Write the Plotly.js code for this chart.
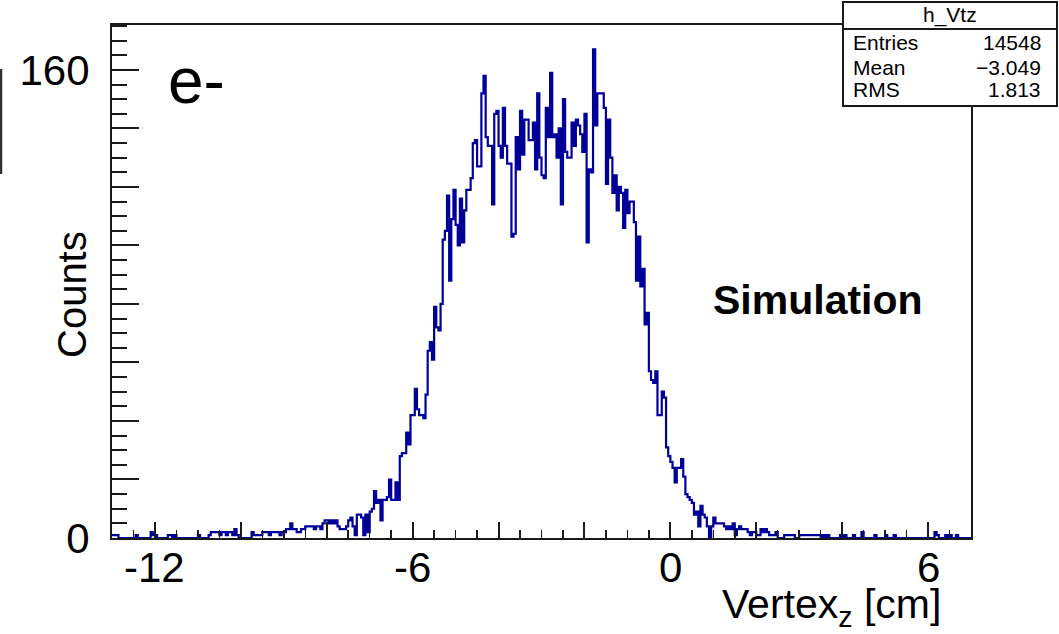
<!DOCTYPE html>
<html><head><meta charset="utf-8">
<script src="https://cdn.plot.ly/plotly-3.0.1.min.js"></script>
<style>html,body{margin:0;padding:0;background:#fff}</style>
</head><body><div id="chart" style="width:1059px;height:634px"></div>
<script>
// Histogram h_Vtz : 400 bins from -13 to 7 cm
const xMin = -13, xMax = 7, binWidth = 0.05;
const counts = [
1,1,1,0, 0,0,0,0, 0,0,0,1, 0,0,0,0, 0,0,2,1, 1,0,0,0, 0,0,1,1, 0,1,0,0, 0,0,0,0, 0,0,0,0,
1,0,0,0, 0,1,2,2, 2,2,1,2, 2,1,2,2, 1,3,1,0, 0,0,0,0, 0,2,1,1, 1,1,2,2, 2,1,2,2, 2,2,1,2,
2,3,3,5, 3,3,2,2, 3,3,4,4, 4,4,3,4, 4,3,5,6, 6,5,6,5, 6,4,3,3, 3,4,6,7, 4,1,8,8, 7,1,8,2,
9,10,16,12, 13,6,13,13, 14,20,13,13, 19,13,28,29, 29,36,32,42, 42,51,44,42, 42,41,49,64, 67,61,79,72, 71,80,102,105, 117,88,109,119,
107,100,116,101, 112,119,119,123, 135,136,127,127, 152,158,137,134, 134,114,145,146, 134,130,147,134, 128,128,103,104, 137,126,146,131, 143,143,136,136, 142,126,152,130,
124,123,147,137, 159,137,138,130, 140,114,150,132, 130,130,142,134, 143,141,138,132, 145,101,126,125, 167,141,152,152, 152,147,121,143, 130,118,124,112, 120,118,106,119,
111,115,115,108, 88,103,86,92, 73,77,57,54, 53,57,42,42, 50,48,31,28, 26,24,19,24, 24,27,21,15, 14,13,12,8, 9,4,11,8, 7,4,0,4,
7,5,5,5, 5,4,3,4, 3,5,1,3, 4,3,3,3, 2,1,2,2, 1,1,3,2, 3,2,1,1, 1,2,0,0, 0,1,1,1, 1,1,0,0,
1,1,1,1, 1,1,1,1, 1,1,0,1, 0,1,0,0, 0,0,0,1, 0,1,0,0, 0,1,0,0, 0,2,0,0, 0,0,0,1, 0,0,0,0,
1,0,0,0, 1,0,0,0, 0,0,0,0, 0,0,0,0, 0,0,0,0, 0,0,0,2, 1,0,0,0, 1,0,1,0, 0,1,0,0, 0,0,0,0
];
const xTickVals = [-12,-10,-8,-6,-4,-2,0,2,4,6];
const xLabelVals = [-12,-6,0,6];
const xLabelText = ["-12","-6","0","6"];
const yTickVals = [0,20,40,60,80,100,120,140,160];
const yTickText = ["0","","","","","","","","160"];
const statsTitle = "h_Vtz";
const statsNames = ["Entries","Mean","RMS"];
const statsValues = ["14548","\u22123.049","1.813"];
const labelText = "e-";
const simText = "Simulation";
const xTitle = "Vertex<sub>z</sub> [cm]";
const yTitle = "Counts";

// step outline built from the bins
const xs = [], ys = [];
counts.forEach((c, i) => {
  const lo = xMin + i * binWidth;
  xs.push(lo, lo + binWidth);
  ys.push(c, c);
});
const yMax = 1.05 * Math.max(...counts);

// pixel helpers for layout placement (plot area 112..971 x 25..538)
const L = 112, R = 971, T = 25, B = 538;
const px = v => (v - L) / (R - L);
const py = v => (B - v) / (B - T);

const FONT = "Liberation Sans, Arial, sans-serif";
const axisCol = "#1a1a1a";

const trace = {
  x: xs, y: ys, type: "scatter", mode: "lines",
  line: {color: "#000099", width: 2.2, shape: "linear"},
  hoverinfo: "skip", cliponaxis: true
};

function ann(x, y, text, size, extra) {
  return Object.assign({x: px(x), y: py(y), xref: "paper", yref: "paper", text: text,
    xanchor: "center", yanchor: "middle", showarrow: false,
    font: {family: FONT, size: size, color: "#000"}}, extra || {});
}

const annotations = [
  ann(72, 295, yTitle, 40, {textangle: -90}),
  ann(831, 607, xTitle, 41),
  ann(196, 81, labelText, 64),
  ann(818, 300, "<b>" + simText + "</b>", 41),
  ann(950, 15, statsTitle, 21)
];
xLabelVals.forEach((v, i) => {
  annotations.push({x: v, xref: "x", y: py(567), yref: "paper", text: xLabelText[i],
    xanchor: "center", yanchor: "middle", showarrow: false,
    font: {family: FONT, size: 42, color: "#000"}});
});
const rowY = [42.5, 67, 89.5];
statsNames.forEach((n, i) => {
  annotations.push(ann(851, rowY[i], n, 21, {xanchor: "left"}));
  annotations.push(ann(1043, rowY[i], statsValues[i], 21, {xanchor: "right"}));
});

const shapes = [
  {type: "rect", xref: "paper", yref: "paper", x0: px(843), x1: px(1057), y0: py(106), y1: py(2),
   fillcolor: "#fff", line: {color: axisCol, width: 2}, layer: "above"},
  {type: "line", xref: "paper", yref: "paper", x0: px(843), x1: px(1057), y0: py(29), y1: py(29),
   line: {color: axisCol, width: 2}, layer: "above"},
  {type: "line", xref: "paper", yref: "paper", x0: px(1), x1: px(1), y0: py(69), y1: py(174),
   line: {color: "#333", width: 2.5}, layer: "above"}
];

const layout = {
  width: 1059, height: 634,
  margin: {l: L, r: 1059 - R, t: T, b: 634 - B, pad: 0},
  paper_bgcolor: "#fff", plot_bgcolor: "#fff",
  showlegend: false, hovermode: false,
  xaxis: {
    range: [xMin, xMax], showgrid: false, zeroline: false,
    showline: true, mirror: true, linecolor: axisCol, linewidth: 2,
    tickmode: "array", tickvals: xTickVals, showticklabels: false,
    ticks: "inside", ticklen: 16, tickwidth: 2, tickcolor: axisCol,
    minor: {ticks: "inside", ticklen: 8, tickwidth: 1.5, tickcolor: axisCol, tickmode: "linear", tick0: 0, dtick: 0.5}
  },
  yaxis: {
    range: [0, yMax], showgrid: false, zeroline: false,
    showline: true, mirror: true, linecolor: axisCol, linewidth: 2,
    tickmode: "array", tickvals: yTickVals, ticktext: yTickText,
    ticks: "inside", ticklen: 27, tickwidth: 2, tickcolor: axisCol,
    minor: {ticks: "inside", ticklen: 15, tickwidth: 2, tickcolor: axisCol, tickmode: "linear", tick0: 0, dtick: 5},
    tickfont: {family: FONT, size: 42, color: "#000"}, ticklabelstandoff: 12
  },
  annotations: annotations,
  shapes: shapes
};

Plotly.newPlot("chart", [trace], layout, {staticPlot: true, displayModeBar: false});
</script>
</body></html>
